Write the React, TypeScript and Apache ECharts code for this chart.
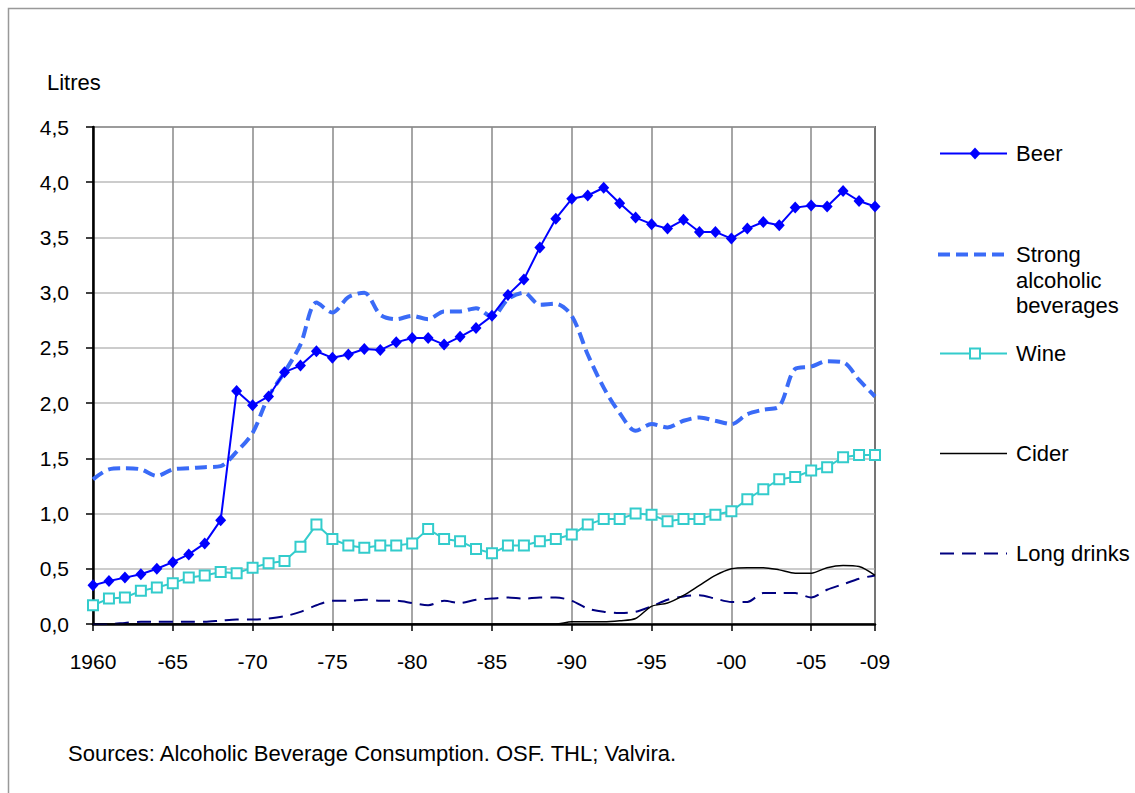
import React, { useEffect, useRef } from "react";
import * as echarts from "echarts";

const years = [
  "1960","1961","1962","1963","1964","1965","1966","1967","1968","1969",
  "1970","1971","1972","1973","1974","1975","1976","1977","1978","1979",
  "1980","1981","1982","1983","1984","1985","1986","1987","1988","1989",
  "1990","1991","1992","1993","1994","1995","1996","1997","1998","1999",
  "2000","2001","2002","2003","2004","2005","2006","2007","2008","2009",
];

const beer = [
  0.35, 0.39, 0.42, 0.45, 0.5, 0.56, 0.63, 0.73, 0.94, 2.11,
  1.98, 2.06, 2.28, 2.34, 2.47, 2.41, 2.44, 2.49, 2.48, 2.55,
  2.59, 2.59, 2.53, 2.6, 2.68, 2.79, 2.98, 3.12, 3.41, 3.67,
  3.85, 3.88, 3.95, 3.81, 3.68, 3.62, 3.58, 3.66, 3.55, 3.55,
  3.49, 3.58, 3.64, 3.61, 3.77, 3.79, 3.78, 3.92, 3.83, 3.78,
];

const strong = [
  1.31, 1.4, 1.41, 1.4, 1.34, 1.4, 1.41, 1.42, 1.43, 1.56,
  1.73, 2.06, 2.28, 2.53, 2.91, 2.82, 2.96, 3.0, 2.8, 2.76,
  2.79, 2.76, 2.83, 2.83, 2.86, 2.78, 2.94, 3.0, 2.89, 2.9,
  2.79, 2.44, 2.14, 1.91, 1.75, 1.81, 1.78, 1.84, 1.87, 1.84,
  1.81, 1.9, 1.94, 1.97, 2.31, 2.33, 2.38, 2.37, 2.21, 2.06,
];

const wine = [
  0.17, 0.23, 0.24, 0.3, 0.33, 0.37, 0.42, 0.44, 0.47, 0.46,
  0.51, 0.55, 0.57, 0.7, 0.9, 0.77, 0.71, 0.69, 0.71, 0.71,
  0.73, 0.86, 0.77, 0.75, 0.68, 0.64, 0.71, 0.71, 0.75, 0.77,
  0.81, 0.9, 0.95, 0.95, 1.0, 0.99, 0.93, 0.95, 0.95, 0.99,
  1.02, 1.13, 1.22, 1.31, 1.33, 1.39, 1.42, 1.51, 1.53, 1.53,
];

const cider = [
  0, 0, 0, 0, 0, 0, 0, 0, 0, 0,
  0, 0, 0, 0, 0, 0, 0, 0, 0, 0,
  0, 0, 0, 0, 0, 0, 0, 0, 0, 0,
  0.02, 0.02, 0.02, 0.03, 0.05, 0.16, 0.19, 0.26, 0.35, 0.44,
  0.5, 0.51, 0.51, 0.49, 0.46, 0.46, 0.51, 0.53, 0.52, 0.44,
];

const longDrinks = [
  0.0, 0.0, 0.01, 0.02, 0.02, 0.02, 0.02, 0.02, 0.03, 0.04,
  0.04, 0.05, 0.07, 0.11, 0.17, 0.21, 0.21, 0.22, 0.21, 0.21,
  0.19, 0.17, 0.21, 0.19, 0.22, 0.23, 0.24, 0.23, 0.24, 0.24,
  0.21, 0.14, 0.11, 0.1, 0.11, 0.16, 0.22, 0.25, 0.26, 0.23,
  0.2, 0.2, 0.28, 0.28, 0.28, 0.24, 0.31, 0.36, 0.41, 0.44,
];

const seriesNames = ["Beer", "Strong\nalcoholic\nbeverages", "Wine", "Cider", "Long drinks"];
const yTicks = [0, 0.5, 1, 1.5, 2, 2.5, 3, 3.5, 4, 4.5];
const unitLabel = "Litres";
const sourceNote = "Sources: Alcoholic Beverage Consumption. OSF. THL; Valvira.";

const FONT = '"Liberation Sans", Arial, sans-serif';
const C_BEER = "#0000FF";
const C_STRONG = "#3A6BF7";
const C_WINE = "#33CCCC";
const C_CIDER = "#000000";
const C_LONG = "#000080";

const showIdx = (i: number) => i % 5 === 0 || i === years.length - 1;

export default function App() {
  const ref = useRef<HTMLDivElement>(null);
  useEffect(() => {
    document.body.style.margin = "0";
    document.body.style.overflow = "hidden";
    if (!ref.current) return;
    const chart = echarts.init(ref.current, null, { renderer: "svg" });
    const lx1 = 940, lx2 = 1007, lxm = 975, tx = 1016;
    const legY = [153.5, 254.5, 353.5, 453.5, 553.5];
    const textStyle = (t: string, y: number, extra: any = {}) => ({
      type: "text",
      x: tx,
      y,
      silent: true,
      style: { text: t, fill: "#000", fontSize: 22, fontFamily: FONT, verticalAlign: "middle", ...extra },
    });
    chart.setOption({
      animation: false,
      backgroundColor: "#fff",
      grid: {
        left: 93,
        right: 260,
        top: 127,
        bottom: 169,
        show: true,
        borderColor: "#000",
        borderWidth: 1.5,
        containLabel: false,
      },
      xAxis: {
        type: "category",
        data: years,
        boundaryGap: false,
        axisLine: { lineStyle: { color: "#000", width: 2.5 } },
        axisTick: { interval: (i: number) => showIdx(i), length: 7, lineStyle: { color: "#000", width: 1.5 } },
        axisLabel: {
          interval: (i: number) => showIdx(i),
          formatter: (v: string, i: number) => (i === 0 ? v : "-" + v.slice(2)),
          color: "#000",
          fontSize: 21,
          fontFamily: FONT,
          margin: 27,
        },
        splitLine: { show: true, interval: (i: number) => showIdx(i), lineStyle: { color: "#888", width: 1.5 } },
      },
      yAxis: {
        type: "value",
        min: yTicks[0],
        max: yTicks[yTicks.length - 1],
        interval: 0.5,
        axisLine: { show: true, lineStyle: { color: "#000", width: 2.5 } },
        axisTick: { show: true, length: 7, lineStyle: { color: "#000", width: 1.5 } },
        axisLabel: {
          formatter: (v: number) => v.toFixed(1).replace(".", ","),
          color: "#000",
          fontSize: 21,
          fontFamily: FONT,
          margin: 24,
        },
        splitLine: { show: true, lineStyle: { color: "#bbb", width: 1.5 } },
      },
      series: [
        {
          name: seriesNames[1],
          type: "line",
          data: strong,
          smooth: 0.3,
          symbol: "none",
          lineStyle: { color: C_STRONG, width: 4, type: [12, 6] },
          itemStyle: { color: C_STRONG },
          z: 2,
        },
        {
          name: seriesNames[4],
          type: "line",
          data: longDrinks,
          smooth: 0.3,
          symbol: "none",
          lineStyle: { color: C_LONG, width: 2, type: [14, 8] },
          itemStyle: { color: C_LONG },
          z: 2,
        },
        {
          name: seriesNames[3],
          type: "line",
          data: cider,
          smooth: 0.3,
          symbol: "none",
          lineStyle: { color: C_CIDER, width: 1.5 },
          itemStyle: { color: C_CIDER },
          z: 3,
        },
        {
          name: seriesNames[2],
          type: "line",
          data: wine,
          symbol: "emptyRect",
          symbolSize: 10,
          showSymbol: true,
          showAllSymbol: true,
          lineStyle: { color: C_WINE, width: 2 },
          itemStyle: { color: C_WINE, borderColor: C_WINE, borderWidth: 2 },
          z: 4,
        },
        {
          name: seriesNames[0],
          type: "line",
          data: beer,
          symbol: "diamond",
          symbolSize: [11, 12],
          showSymbol: true,
          showAllSymbol: true,
          lineStyle: { color: C_BEER, width: 2 },
          itemStyle: { color: C_BEER },
          z: 5,
        },
      ],
      graphic: [
        {
          type: "rect",
          silent: true,
          z: -10,
          shape: { x: 8.5, y: 8.5, width: 1400, height: 1000 },
          style: { fill: "none", stroke: "#999", lineWidth: 1.5 },
        },
        {
          type: "text",
          x: 47,
          y: 82.5,
          silent: true,
          style: { text: unitLabel, fill: "#000", fontSize: 22, fontFamily: FONT, verticalAlign: "middle" },
        },
        {
          type: "text",
          x: 68,
          y: 753,
          silent: true,
          style: { text: sourceNote, fill: "#000", fontSize: 22, fontFamily: FONT, verticalAlign: "middle" },
        },
        // Legend: Beer
        { type: "line", silent: true, shape: { x1: lx1, y1: legY[0], x2: lx2, y2: legY[0] }, style: { stroke: C_BEER, lineWidth: 2 } },
        {
          type: "polygon",
          silent: true,
          shape: { points: [[lxm, legY[0] - 6], [lxm + 5.5, legY[0]], [lxm, legY[0] + 6], [lxm - 5.5, legY[0]]] },
          style: { fill: C_BEER },
        },
        textStyle(seriesNames[0], legY[0]),
        // Legend: Strong
        { type: "line", silent: true, shape: { x1: 938, y1: legY[1], x2: 1008, y2: legY[1] }, style: { stroke: C_STRONG, lineWidth: 4, lineDash: [12, 6] } },
        textStyle(seriesNames[1], legY[1] - 12.75, { verticalAlign: "top", lineHeight: 25.5 }),
        // Legend: Wine
        { type: "line", silent: true, shape: { x1: lx1, y1: legY[2], x2: lx2, y2: legY[2] }, style: { stroke: C_WINE, lineWidth: 2 } },
        {
          type: "rect",
          silent: true,
          shape: { x: lxm - 5, y: legY[2] - 5, width: 10, height: 10 },
          style: { fill: "#fff", stroke: C_WINE, lineWidth: 2 },
        },
        textStyle(seriesNames[2], legY[2]),
        // Legend: Cider
        { type: "line", silent: true, shape: { x1: lx1, y1: legY[3], x2: lx2, y2: legY[3] }, style: { stroke: C_CIDER, lineWidth: 1.5 } },
        textStyle(seriesNames[3], legY[3]),
        // Legend: Long drinks
        { type: "line", silent: true, shape: { x1: lx1, y1: legY[4], x2: lx2, y2: legY[4] }, style: { stroke: C_LONG, lineWidth: 2, lineDash: [14, 8] } },
        textStyle(seriesNames[4], legY[4]),
      ],
    });
    return () => chart.dispose();
  }, []);
  return <div ref={ref} style={{ width: 1135, height: 793 }} />;
}
